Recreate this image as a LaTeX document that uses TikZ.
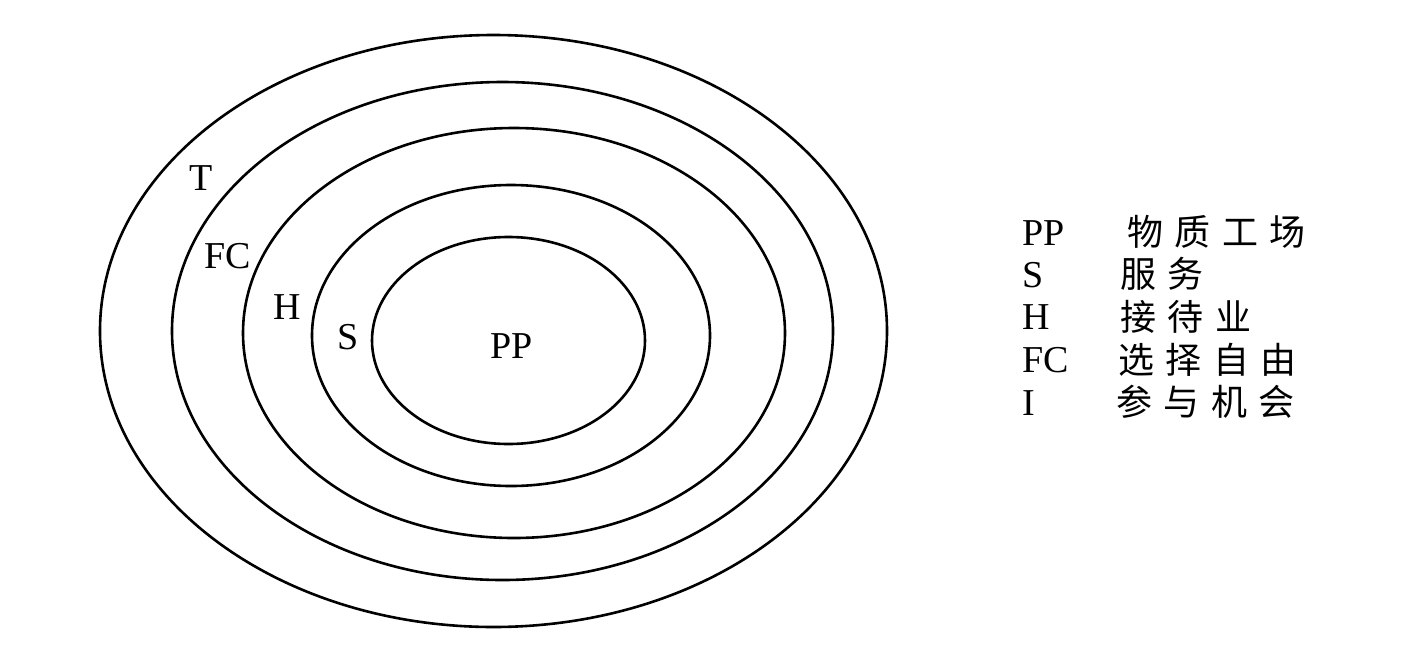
\documentclass[tikz,border=0pt]{standalone}
\usepackage{fontspec}
\setmainfont{Liberation Serif}
\newfontfamily\cjk{Noto Sans CJK SC}
\newcommand\zc[1]{\makebox[47.5pt][l]{#1}}
\begin{document}
\begin{tikzpicture}[x=1pt,y=-1pt,
  ring/.style={draw=black,line width=2.6pt},
  lab/.style={inner sep=0pt,font=\fontsize{38}{40}\selectfont},
  key/.style={inner sep=0pt,anchor=west,font=\fontsize{38}{40}\selectfont},
  val/.style={inner sep=0pt,anchor=west,font=\cjk\fontsize{36}{38}\selectfont}]
\useasboundingbox[fill=white] (0,0) rectangle (1428,649);
% rings
\draw[ring] (493.5,331) ellipse [x radius=393.5pt, y radius=296pt];
\draw[ring] (502.5,331) ellipse [x radius=330.5pt, y radius=249pt];
\draw[ring] (514,333) ellipse [x radius=271pt, y radius=205pt];
\draw[ring] (511,335.5) ellipse [x radius=199pt, y radius=150.5pt];
\draw[ring] (508.5,340.5) ellipse [x radius=136.5pt, y radius=103.5pt];
% ring labels
\node[lab] (lT) at (201,178) {T};
\node[lab] (lFC) at (228,256) {FC};
\node[lab] (lH) at (287,307) {H};
\node[lab] (lS) at (348,337) {S};
\node[lab] (lPP) at (512,346) {PP};
% legend
\node[key] (k1) at (1022,233) {PP};
\node[key] (k2) at (1022,275) {S};
\node[key] (k3) at (1022,317) {H};
\node[key] (k4) at (1022,360) {FC};
\node[key] (k5) at (1022,403) {I};
\node[val] (v1) at (1127,232) {\zc{物}\zc{质}\zc{工}\zc{场}};
\node[val] (v2) at (1120,274) {\zc{服}\zc{务}};
\node[val] (v3) at (1120,317) {\zc{接}\zc{待}\zc{业}};
\node[val] (v4) at (1118,360) {\zc{选}\zc{择}\zc{自}\zc{由}};
\node[val] (v5) at (1116,402) {\zc{参}\zc{与}\zc{机}\zc{会}};
\end{tikzpicture}
\end{document}
